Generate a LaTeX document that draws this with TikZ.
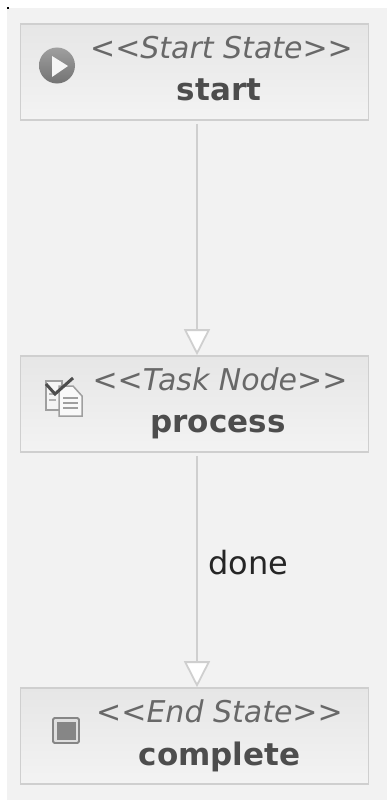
\documentclass[tikz,border=0pt]{standalone}
\usepackage{fontspec}
\setmainfont{DejaVu Sans}
\usetikzlibrary{arrows.meta,positioning}
\definecolor{panelgray}{HTML}{F2F2F2}
\definecolor{edgegray}{HTML}{CFCFCF}
\definecolor{boxtop}{HTML}{E6E6E6}
\definecolor{boxbottom}{HTML}{F3F3F3}
\definecolor{inkgray}{HTML}{4D4D4D}
\tikzset{
    statebox/.style={draw=edgegray, line width=1.6pt, top color=boxtop, bottom color=boxbottom, minimum width=348pt, minimum height=96pt, inner sep=0pt},
    stereotype/.style={text=inkgray!85, font=\fontsize{30}{30}\selectfont\itshape, inner sep=0pt},
    statename/.style={text=inkgray, font=\fontsize{31}{31}\selectfont\bfseries, inner sep=0pt},
    flow/.style={draw=edgegray, line width=1.8pt, -{Triangle[open, fill=white, width=26pt, length=26pt]}}
}
\begin{document}
\begin{tikzpicture}[x=1pt,y=-1pt]
    \useasboundingbox (0,0) rectangle (387,800);
    \fill[panelgray] (7,8) rectangle (387,800);
    \fill[black] (6.5,7) rectangle (8.5,9.5);

    \node[statebox] (start) at (194.5,72) {};
    \node[statebox] (process) at (194.5,404) {};
    \node[statebox] (complete) at (194.5,736) {};

    % labels
    \node[stereotype] (startType) at (221.5,48) {<{}<Start State>{}>};
    \node[statename] (startName) at (219,90) {start};
    \node[stereotype] (processType) at (220,379) {<{}<Task Node>{}>};
    \node[statename] (processName) at (218,427) {process};
    \node[stereotype] (completeType) at (219.5,711) {<{}<End State>{}>};
    \node[statename] (completeName) at (219.5,757) {complete};

    % start icon
    \shade[top color=gray!75, bottom color=gray!90!black] (57,65.5) circle (18);
    \fill[white!92!gray] (52,56) -- (68,66) -- (52,77) -- cycle;

    % task icon
    \draw[gray!75, line width=1.5pt, fill=white!92!gray] (46,381) rectangle (62,410);
    \draw[gray!75, line width=1.5pt, fill=white!95!gray] (59,386) -- (73,386) -- (82,396) -- (82,416) -- (59,416) -- cycle;
    \foreach \y in {398,403,408} {
        \draw[gray!75, line width=1.2pt] (63,\y) -- (78,\y);
    }
    \foreach \y in {394,400} {
        \draw[gray!60, line width=1.2pt] (49,\y) -- (56,\y);
    }
    \draw[inkgray, line width=3pt] (46,384) -- (55,394) -- (73,378);

    % end icon
    \draw[gray!95, line width=1.8pt, fill=gray!25, rounded corners=1.5pt] (53,718) rectangle (79,743);
    \fill[gray!95] (56.5,721.5) rectangle (75.5,739.5);

    \draw[flow] (start.south) ++(2.5,3) coordinate (startOut) (startOut) -- (startOut |- process.north);
    \draw[flow] (process.south) ++(2.5,3) coordinate (processOut) (processOut) -- (processOut |- complete.north);
    \node[font=\fontsize{32}{32}\selectfont, text=black!85, inner sep=0pt] (doneLabel) at (248.5,563) {done};
\end{tikzpicture}
\end{document}
